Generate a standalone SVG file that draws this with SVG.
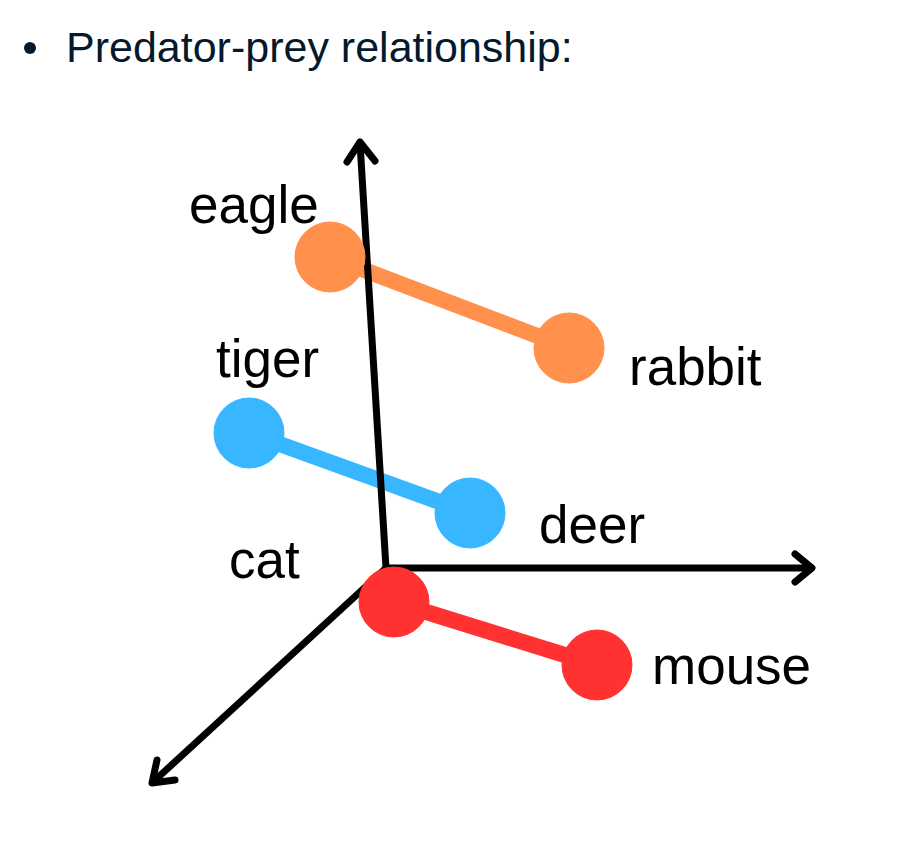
<svg xmlns="http://www.w3.org/2000/svg" width="917" height="856" viewBox="0 0 917 856">
<style>
.title{font-family:"Liberation Sans",Arial,sans-serif;font-size:43px;fill:#05192D}
.lbl{font-family:"Liberation Sans",Arial,sans-serif;font-size:53px;fill:#000}
.axis{stroke:#000;stroke-width:7;fill:none;stroke-linecap:round;stroke-linejoin:round}
.bar{stroke-width:16;stroke-linecap:round}
.orange{fill:#FF914D;stroke:#FF914D}
.blue{fill:#38B6FF;stroke:#38B6FF}
.red{fill:#FF3131;stroke:#FF3131}
</style>
<rect width="917" height="856" fill="#fff"/>
<g id="title">
<circle cx="30" cy="48" r="6" fill="#05192D"/>
<text class="title" x="66" y="62">Predator-prey relationship:</text>
</g>
<g id="connectors">
<line class="bar orange" x1="330" y1="257" x2="569" y2="348"/>
<line class="bar blue" x1="249" y1="433" x2="470" y2="513"/>
<line class="bar red" x1="394" y1="602" x2="597" y2="665"/>
</g>
<g id="axes">
<line class="axis" x1="386" y1="568" x2="360" y2="143"/>
<polyline class="axis" points="347,162 360,142 375,161"/>
<line class="axis" x1="386" y1="568" x2="811" y2="568"/>
<polyline class="axis" points="795,554 812,568 795,582"/>
<line class="axis" x1="386" y1="568" x2="153" y2="782"/>
<polyline class="axis" points="157,760 152,783 175,780"/>
</g>
<g id="eagle"><circle class="orange" cx="330" cy="257" r="35"/><text class="lbl" x="189" y="223">eagle</text></g>
<g id="rabbit"><circle class="orange" cx="569" cy="348" r="35"/><text class="lbl" x="629" y="385">rabbit</text></g>
<g id="tiger"><circle class="blue" cx="249" cy="433" r="35"/><text class="lbl" x="216" y="377">tiger</text></g>
<g id="deer"><circle class="blue" cx="470" cy="513" r="35"/><text class="lbl" x="539" y="543">deer</text></g>
<g id="cat"><circle class="red" cx="394" cy="602" r="35"/><text class="lbl" x="229" y="578">cat</text></g>
<g id="mouse"><circle class="red" cx="597" cy="665" r="35"/><text class="lbl" x="652" y="684">mouse</text></g>
</svg>
